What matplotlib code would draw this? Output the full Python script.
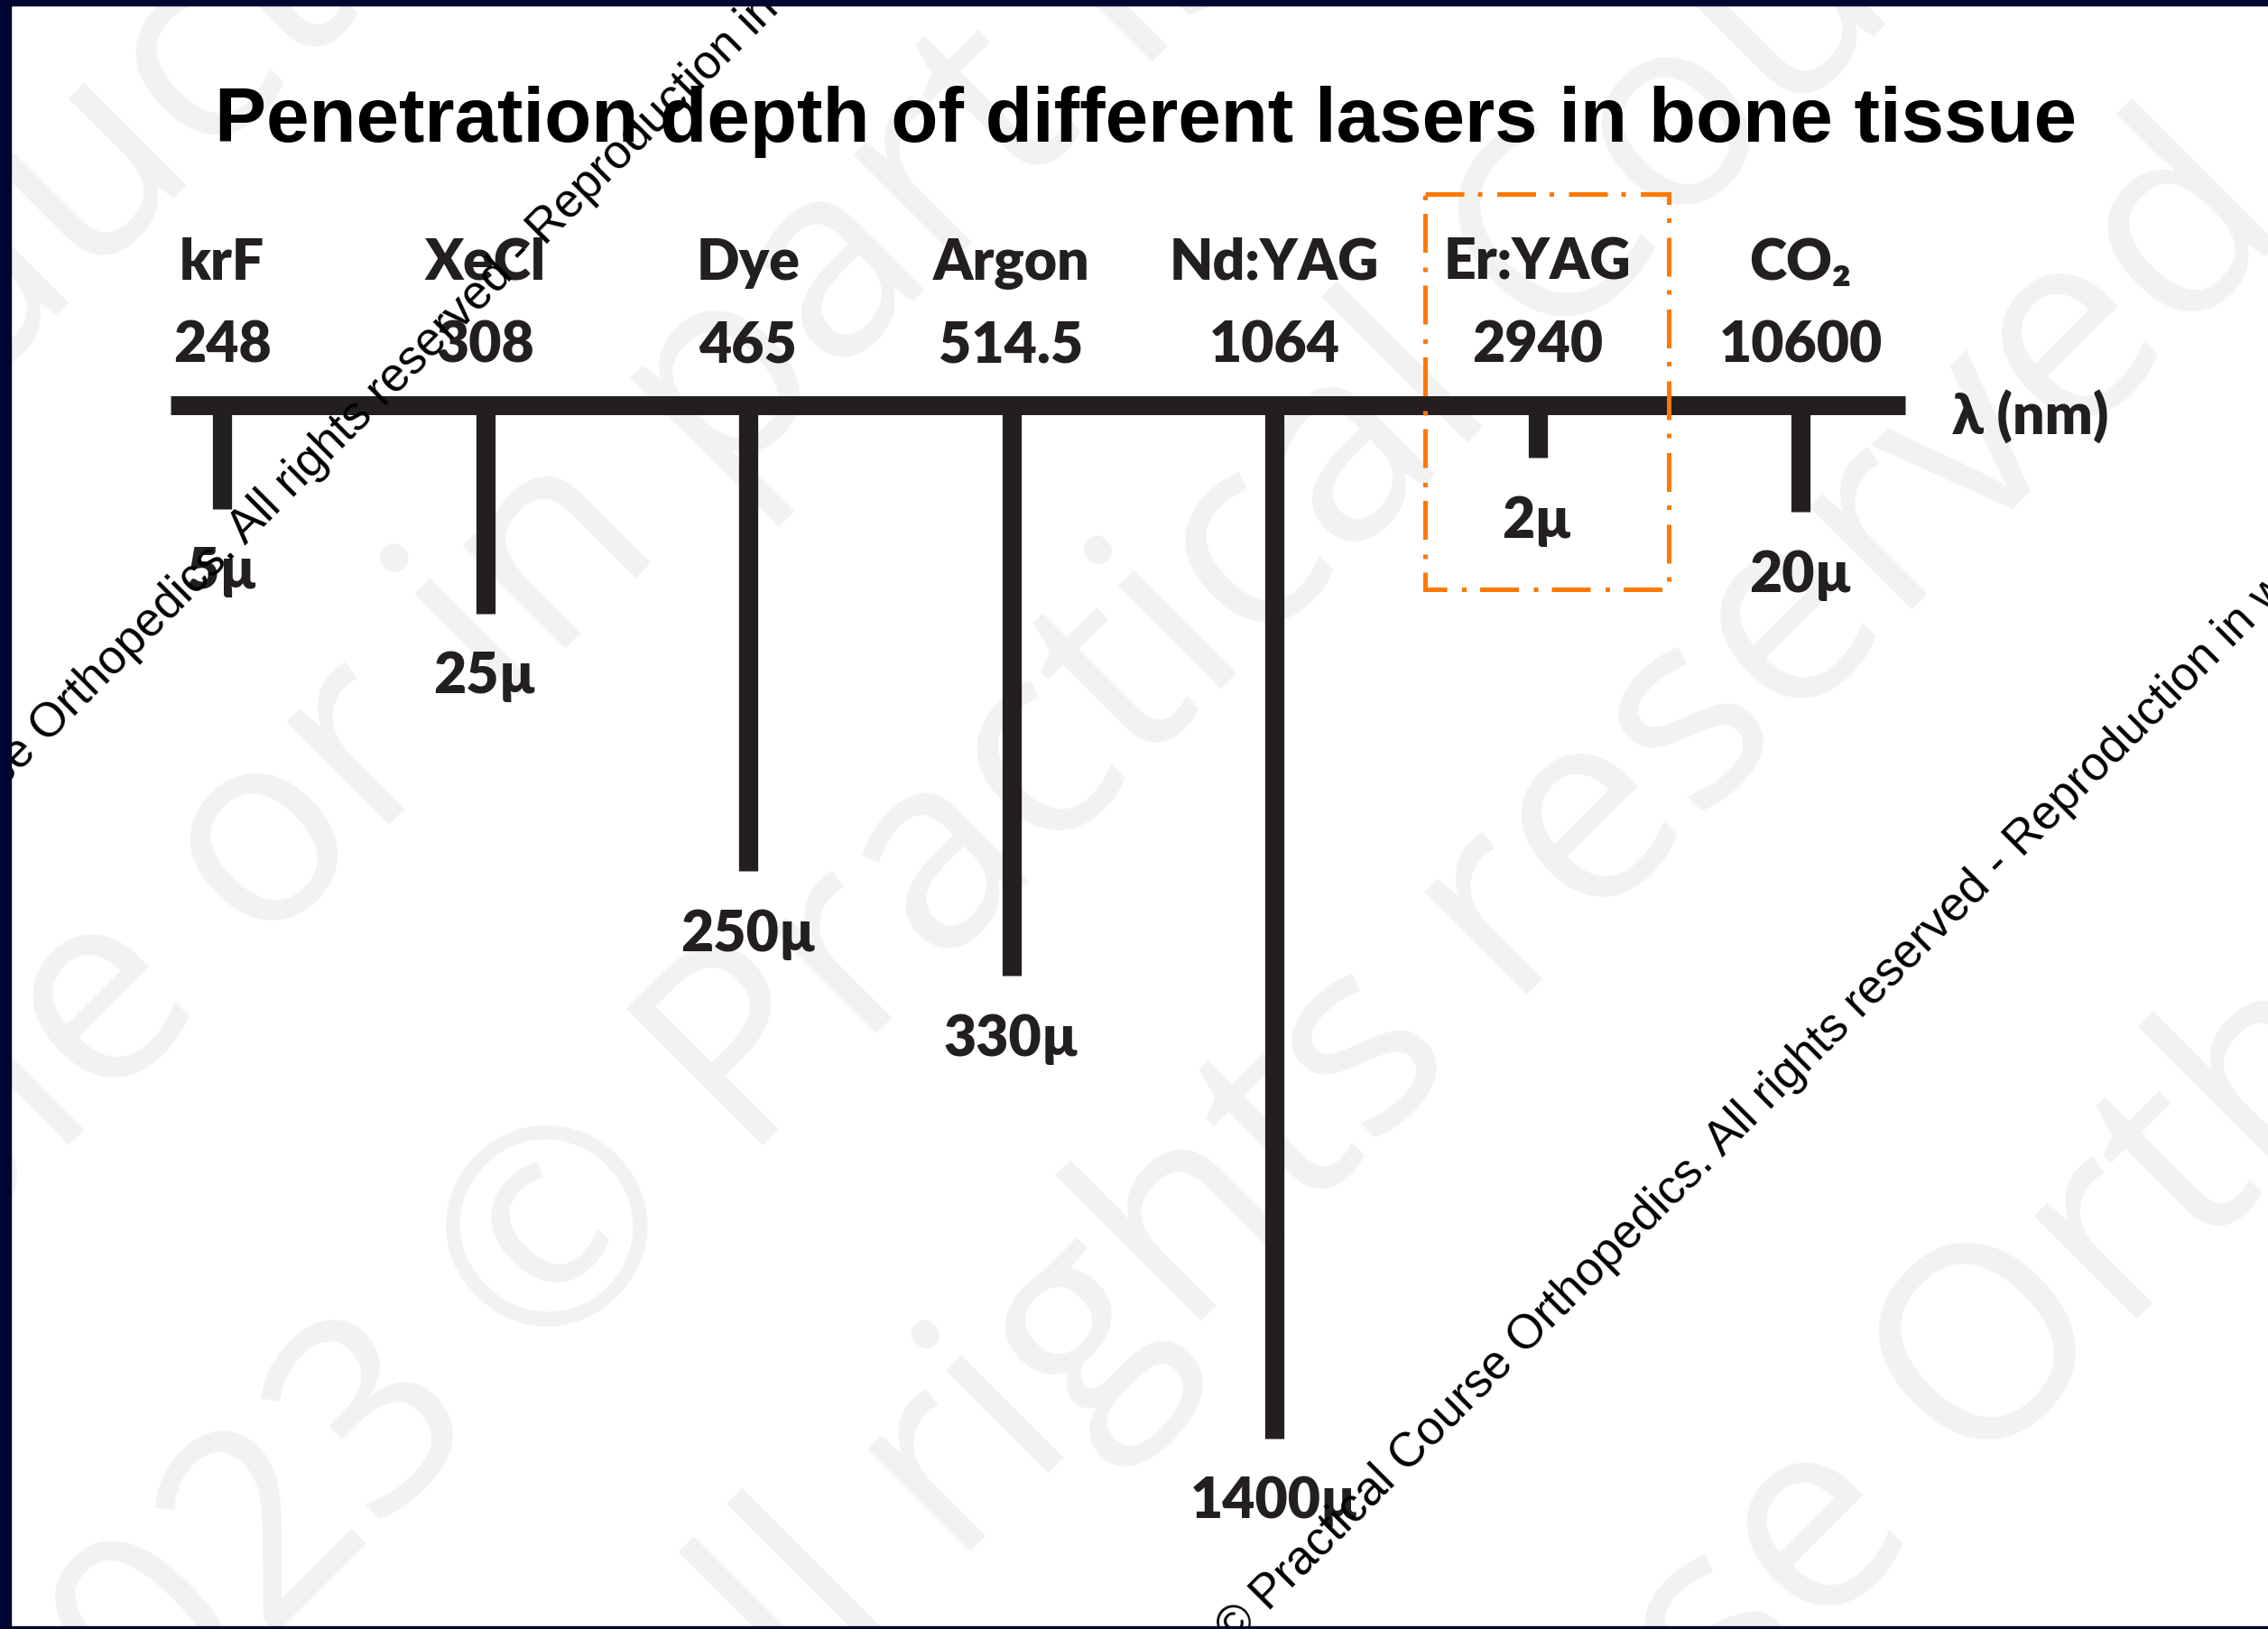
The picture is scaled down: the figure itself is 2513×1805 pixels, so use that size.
import numpy as np
import matplotlib
matplotlib.use("Agg")
import matplotlib.pyplot as plt
from matplotlib.patches import Rectangle
from matplotlib.textpath import TextPath
from matplotlib.font_manager import FontProperties

# --- DATA ---
lasers = ["krF", "XeCl", "Dye", "Argon", "Nd:YAG", "Er:YAG", "CO₂"]
wavelength_nm = ["248", "308", "465", "514.5", "1064", "2940", "10600"]
depth_labels = ["5µ", "25µ", "250µ", "330µ", "1400µ", "2µ", "20µ"]
# bar lengths as drawn on the slide (schematic, not to scale)
drawn_depth = [115, 231, 516, 632, 1145, 58, 118]
highlight = "Er:YAG"

# --- LAYOUT (pixels of the 2513x1806 canvas) ---
W, H, DPI = 2513, 1806, 100
X0, STEP, AXIS_Y = 246, 291.5, 449.5
INK = "#231f20"
ORANGE = "#ff7800"
WM_GRAY = "#f2f2f2"
NAVY = "#000532"
LABEL_FONT = ["Lato", "DejaVu Sans"]
LABEL_SIZE = 45
LABEL_WEIGHT = "heavy"

fig = plt.figure(figsize=(W / DPI, H / DPI), dpi=DPI)
fig.patch.set_facecolor("white")
ax = fig.add_axes([0, 0, 1, 1])
ax.set_xlim((0 - X0) / STEP, (W - X0) / STEP)
ax.set_ylim(H - AXIS_Y, -AXIS_Y)
ax.axis("off")


def diag_text(s, key, cx, cy, key_h, size, family, color, weight="normal", angle=45, z=1):
    # place rotated text so that the centre of `key` lands on pixel (cx, cy)
    em = size * DPI / 72
    fp = FontProperties(family=family, weight=weight)
    pre = s[:s.index(key)]
    x1 = TextPath((0, 0), pre + key, size=em, prop=fp).get_extents().x1
    kw = TextPath((0, 0), key, size=em, prop=fp).get_extents().width
    kx, ky = x1 - kw / 2, key_h * em
    a = np.radians(angle)
    bx = cx - (kx * np.cos(a) - ky * np.sin(a))
    by = (H - cy) - (kx * np.sin(a) + ky * np.cos(a))
    ax.text(bx / W, by / H, s, transform=ax.transAxes, rotation=angle,
            rotation_mode="anchor", ha="left", va="baseline", fontsize=size,
            family=family, weight=weight, color=color, zorder=z)


# --- BACKGROUND WATERMARK ---
wm_lines = [
    ("All rights reserved - Reproduction in whole", "u", 103, 196, 0.27),
    ("Reproduction in whole or in part is prohibited", "or", 340, 890, 0.27),
    ("2023 © Practical Course Orthopedics", "©", 608, 1359, 0.35),
    ("All rights reserved - Reproduction", "ese", 1874, 805, 0.27),
    ("2023 © Practical Course Orthopedics", "O", 2192, 1485, 0.36),
]
for s, key, cx, cy, kh in wm_lines:
    diag_text(s, key, cx, cy, kh, 216, "Open Sans", WM_GRAY, z=0)

# --- TITLE ---
ax.text(1270 / W, 1 - 157 / H, "Penetration depth of different lasers in bone tissue",
        transform=ax.transAxes, ha="center", va="baseline", fontsize=61.5,
        fontweight="bold", family="Liberation Sans", color="black", zorder=3)

# --- AXIS AND BARS ---
x = np.arange(len(lasers))
ax.hlines(0, (189 - X0) / STEP, (2111 - X0) / STEP, color=INK, lw=15.1, zorder=2)
ax.vlines(x, 0, drawn_depth, color=INK, lw=15.3, zorder=2)

for xi, name, wl, d, lab in zip(x, lasers, wavelength_nm, drawn_depth, depth_labels):
    for yy, txt in [(310 - AXIS_Y, name), (402 - AXIS_Y, wl), (d + 88, lab)]:
        ax.text(xi, yy, txt, ha="center", va="baseline", fontsize=LABEL_SIZE,
                fontweight=LABEL_WEIGHT, family=LABEL_FONT, color=INK, zorder=3)

ax.text((2163 - X0) / STEP, 482 - AXIS_Y, "λ (nm)", ha="left", va="baseline",
        fontsize=LABEL_SIZE, fontweight=LABEL_WEIGHT, family=LABEL_FONT,
        color=INK, zorder=3)

# dash-dot box around the highlighted laser
hi = lasers.index(highlight)
box = Rectangle((hi - 0.4275, 216 - AXIS_Y), 0.926, 438, fill=False,
                ec=ORANGE, lw=3.6, ls=(0, (8.6, 3.0, 1.0, 3.3)), zorder=4)
ax.add_patch(box)

# --- COPYRIGHT OVERLAY ---
notice = ("2023 © Practical Course Orthopedics. All rights reserved - "
          "Reproduction in whole or in part is prohibited")
diag_text(notice, "R", 605, 245, 0.358, 38, "Liberation Sans", "black", z=6)
diag_text(notice, "R", 2242, 923, 0.358, 38, "Liberation Sans", "black", z=6)

# --- SLIDE FRAME ---
for rect in [(0, 0, 12 / W, 1), (0, 1 - 7 / H, 1, 7 / H), (0, 0, 1, 3 / H)]:
    ax.add_patch(Rectangle(rect[:2], rect[2], rect[3], transform=ax.transAxes,
                           color=NAVY, zorder=10, clip_on=False))

fig.savefig("out.png", dpi=DPI)
